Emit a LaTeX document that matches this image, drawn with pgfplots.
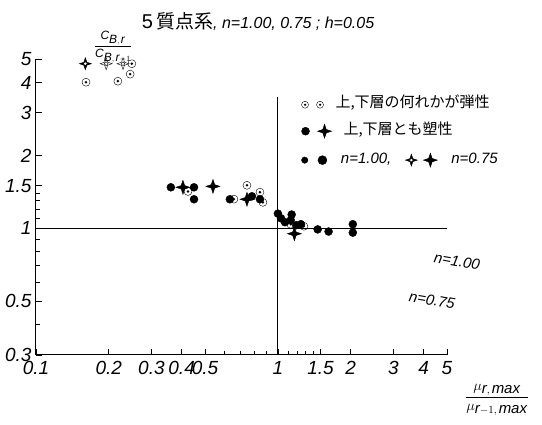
\documentclass[border=0pt]{standalone}
\usepackage{pgfplots}
\pgfplotsset{compat=1.18}
\usepackage{fontspec}
\setmainfont{Liberation Sans}
\newfontfamily\jp{Noto Sans CJK JP}
\pgfdeclareplotmark{odot}{%
  \pgfpathcircle{\pgfpointorigin}{\pgfplotmarksize}\pgfusepathqstroke
  \pgfpathcircle{\pgfpointorigin}{0.35\pgfplotmarksize}\pgfusepathqfill}
\pgfdeclareplotmark{star4}{%
  \pgfpathmoveto{\pgfqpoint{0pt}{\pgfplotmarksize}}%
  \pgfpathlineto{\pgfqpoint{0.25\pgfplotmarksize}{0.25\pgfplotmarksize}}%
  \pgfpathlineto{\pgfqpoint{\pgfplotmarksize}{0pt}}%
  \pgfpathlineto{\pgfqpoint{0.25\pgfplotmarksize}{-0.25\pgfplotmarksize}}%
  \pgfpathlineto{\pgfqpoint{0pt}{-\pgfplotmarksize}}%
  \pgfpathlineto{\pgfqpoint{-0.25\pgfplotmarksize}{-0.25\pgfplotmarksize}}%
  \pgfpathlineto{\pgfqpoint{-\pgfplotmarksize}{0pt}}%
  \pgfpathlineto{\pgfqpoint{-0.25\pgfplotmarksize}{0.25\pgfplotmarksize}}%
  \pgfpathclose\pgfusepathqfillstroke}
\pgfdeclareplotmark{ostar4}{%
  \pgfpathmoveto{\pgfqpoint{0pt}{\pgfplotmarksize}}%
  \pgfpathlineto{\pgfqpoint{0.25\pgfplotmarksize}{0.25\pgfplotmarksize}}%
  \pgfpathlineto{\pgfqpoint{\pgfplotmarksize}{0pt}}%
  \pgfpathlineto{\pgfqpoint{0.25\pgfplotmarksize}{-0.25\pgfplotmarksize}}%
  \pgfpathlineto{\pgfqpoint{0pt}{-\pgfplotmarksize}}%
  \pgfpathlineto{\pgfqpoint{-0.25\pgfplotmarksize}{-0.25\pgfplotmarksize}}%
  \pgfpathlineto{\pgfqpoint{-\pgfplotmarksize}{0pt}}%
  \pgfpathlineto{\pgfqpoint{-0.25\pgfplotmarksize}{0.25\pgfplotmarksize}}%
  \pgfpathclose\pgfusepathqfillstroke
  \pgfsetfillcolor{white}%
  \pgfpathcircle{\pgfpointorigin}{0.32\pgfplotmarksize}\pgfusepathqfillstroke}
\newcommand{\sym}[2]{\tikz[baseline=-0.6ex]{\pgfsetplotmarksize{#2}\pgfsetfillcolor{black}\pgfuseplotmark{#1}}}
\begin{document}
\begin{tikzpicture}
\path[use as bounding box] (-36pt,-70pt) rectangle (506pt,355pt);
\begin{axis}[
  scale only axis, width=411pt, height=296pt,
  xmode=log, ymode=log,
  xmin=0.1, xmax=5, ymin=0.3, ymax=5,
  axis lines=left, axis line style={-, line width=1pt},
  xtick={0.1,0.2,0.3,0.4,0.5,1,1.5,2,3,4,5},
  xticklabels={0.1,0.2,0.3,0.4,0.5,1,1.5,2,3,4,5},
  minor xtick={0.6,0.7,0.8,0.9,1.1,1.2,1.3,1.4},
  ytick={0.3,0.5,1,1.5,2,3,4,5},
  yticklabels={0.3,0.5,1,1.5,2,3,4,5},
  minor ytick={0.4,0.6,0.7,0.8,0.9,1.1,1.2,1.3,1.4},
  tick align=inside, major tick length=6pt, minor tick length=4pt,
  tick style={black, line width=0.8pt},
  ticklabel style={font=\fontsize{19}{19}\selectfont\itshape},
  xticklabel style={yshift=-3pt},
  yticklabel style={xshift=-1pt},
  /pgf/number format/assume math mode=true,
  clip=false,
]
\addplot[black, line width=1pt] coordinates {(0.1,1) (5,1)};
\addplot[black, line width=1pt] coordinates {(1,0.3) (1,3.5)};
% elastic (circle with dot)
\addplot[only marks, mark=odot, mark size=4pt, black, fill=black] coordinates {
 (0.161,4.01) (0.218,4.05) (0.245,4.33) (0.249,4.78)
 (0.425,1.42) (0.745,1.505) (0.658,1.32) (0.843,1.41) (0.867,1.28)
 (1.28,1.02) (1.13,1.04)};
% n=1.00 plastic (filled dots)
\addplot[only marks, mark=*, mark size=4pt, black] coordinates {
 (0.361,1.477) (0.45,1.477) (0.45,1.318) (0.633,1.318) (0.781,1.356) (0.843,1.318)
 (1.0,1.15) (1.03,1.10) (1.07,1.06) (1.14,1.14) (1.13,1.08) (1.19,1.03) (1.245,1.04)
 (1.46,0.99) (1.62,0.97) (2.04,1.04) (2.04,0.96)};
% n=0.75 plastic (filled stars)
\addplot[only marks, mark=star4, mark size=7pt, black, fill=black] coordinates {
 (0.405,1.477) (0.539,1.49) (0.745,1.318) (1.17,0.95)};
% n=0.75 elastic (open stars)
\addplot[only marks, mark=ostar4, mark size=6pt, black, fill=black] coordinates {
 (0.16,4.78) (0.195,4.78) (0.229,4.78)};
\end{axis}
% title
\node at (222pt,333pt) {\fontsize{20}{20}\selectfont 5\,{\jp\fontsize{19}{19}\selectfont 質点系}{\fontsize{16}{16}\selectfont\itshape, n=1.00, 0.75 ; h=0.05}};
% y label
\node at (77pt,308pt) {\fontsize{12}{12}\selectfont$\displaystyle\frac{\textit{C}_{\textit{B},\,\textit{r}}}{\textit{C}_{\textit{B},\,\textit{r}-1}}$};
% x label
\node at (461pt,-45pt) {\fontsize{15}{15}\selectfont$\displaystyle\frac{\mu_{\textit{r},\,\textit{max}}}{\mu_{\textit{r}-1,\,\textit{max}}}$};
% legend
\node[anchor=west] at (262pt,252pt) {\sym{odot}{3.5pt}\hspace{8pt}\sym{odot}{3.5pt}\hspace{12pt}{\jp\fontsize{15}{15}\selectfont 上,下層の何れかが弾性}};
\node[anchor=west] at (262pt,225pt) {\sym{*}{4pt}\hspace{8pt}\sym{star4}{7pt}\hspace{12pt}{\jp\fontsize{15}{15}\selectfont 上,下層とも塑性}};
\node[anchor=west] at (262pt,195pt) {\sym{*}{3.2pt}\hspace{10pt}\sym{*}{4.5pt}\hspace{14pt}{\fontsize{15}{15}\selectfont\itshape n=1.00,}\hspace{14pt}\sym{ostar4}{6pt}\hspace{6pt}\sym{star4}{7pt}\hspace{14pt}{\fontsize{15}{15}\selectfont\itshape n=0.75}};
% right labels
\node[rotate=-10] at (421pt,94pt) {\fontsize{15}{15}\selectfont\itshape n=1.00};
\node[rotate=-10] at (396pt,55pt) {\fontsize{15}{15}\selectfont\itshape n=0.75};
\end{tikzpicture}
\end{document}
